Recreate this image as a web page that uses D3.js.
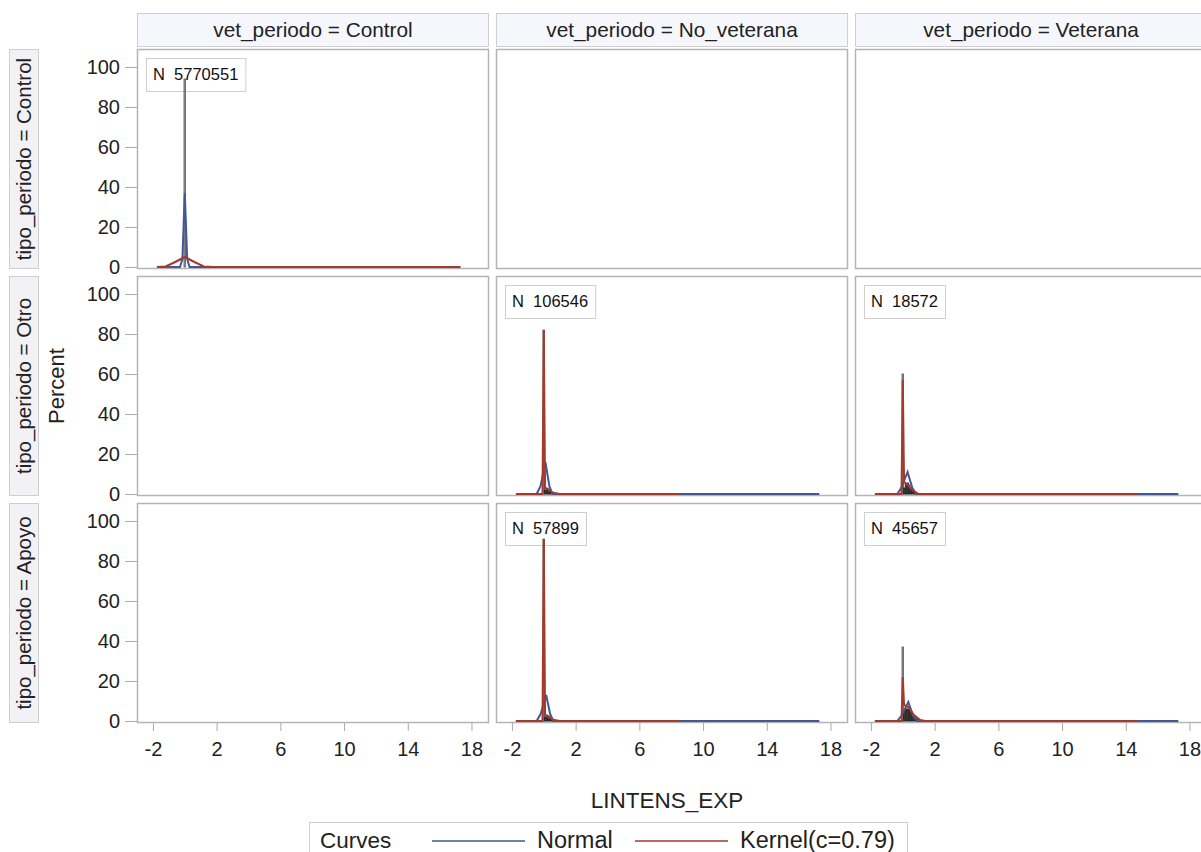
<!DOCTYPE html>
<html>
<head>
<meta charset="utf-8">
<script src="https://cdn.jsdelivr.net/npm/d3@7"></script>
<style>
  html, body { margin: 0; padding: 0; background: #ffffff; }
  svg { display: block; font-family: Arial, "Liberation Sans", sans-serif; }
</style>
</head>
<body>
<svg id="chart" width="1201" height="852"></svg>
<script>
// ---------------- data ----------------
const colLevels = ["Control", "No_veterana", "Veterana"];
const rowLevels = ["Control", "Otro", "Apoyo"];
const xTicks = [-2, 2, 6, 10, 14, 18];
const yTicks = [0, 20, 40, 60, 80, 100];
const xTitle = "LINTENS_EXP";
const yTitle = "Percent";
const legendItems = ["Normal", "Kernel(c=0.79)"];
const legendTitle = "Curves";

// N per panel [row][col], null = empty cell
const panelN = [
  [5770551, null, null],
  [null, 106546, 18572],
  [null, 57899, 45657]
];

// histogram bin midpoints (bin width 0.1) and percents per panel
const binWidth = 0.1;
const histMid_CC = [0];
const histPct_CC = [94];
const histMid_ONV = [0, 0.1, 0.2, 0.3, 0.4, 0.5, 0.6, 0.7];
const histPct_ONV = [82, 2, 3, 2.5, 1.5, 1, 0.5, 0.3];
const histMid_OV = [0, 0.1, 0.2, 0.3, 0.4, 0.5, 0.6, 0.7, 0.8];
const histPct_OV = [60, 3, 5, 5.5, 4.5, 3, 2, 1, 0.5];
const histMid_ANV = [0, 0.1, 0.2, 0.3, 0.4, 0.5, 0.6, 0.7];
const histPct_ANV = [91, 2, 3, 2.5, 1.5, 1, 0.5, 0.3];
const histMid_AV = [0, 0.1, 0.2, 0.3, 0.4, 0.5, 0.6, 0.7, 0.8, 0.9];
const histPct_AV = [37, 5, 6, 6, 5.5, 4.5, 3.5, 2.5, 1.5, 0.8];

// normal curve points (x, percent)
const normX_CC = [-1.75, -0.3, -0.15, 0, 0.15, 0.3, 17.3];
const normY_CC = [0, 0, 4, 37, 4, 0, 0];
const normX_ONV = [-1.75, -0.45, -0.2, 0.1, 0.35, 0.55, 17.3];
const normY_ONV = [0, 0, 4, 16, 4, 0, 0];
const normX_OV = [-1.75, -0.35, -0.1, 0.3, 0.6, 0.85, 17.3];
const normY_OV = [0, 0, 3, 11, 3, 0, 0];
const normX_ANV = [-1.75, -0.45, -0.2, 0.15, 0.4, 0.6, 17.3];
const normY_ANV = [0, 0, 3.5, 13, 3.5, 0, 0];
const normX_AV = [-1.75, -0.35, -0.1, 0.35, 0.65, 0.9, 17.3];
const normY_AV = [0, 0, 2.5, 9.5, 2.5, 0, 0];

// kernel curve points (x, percent)
const kerX_CC = [-1.75, -1.2, -0.6, 0, 0.6, 1.2, 1.8, 17.3];
const kerY_CC = [0, 0.3, 2.5, 5, 2.5, 0.3, 0, 0];
const kerX_ONV = [-1.75, -0.08, 0, 0.08, 0.3, 0.6, 1.0, 8.5];
const kerY_ONV = [0, 0, 82, 3, 2, 0.6, 0, 0];
const kerX_OV = [-1.75, -0.08, 0, 0.08, 0.3, 0.6, 1.0, 14.7];
const kerY_OV = [0, 0, 57, 6, 4.5, 2, 0, 0];
const kerX_ANV = [-1.75, -0.08, 0, 0.08, 0.3, 0.6, 1.0, 8.5];
const kerY_ANV = [0, 0, 91, 3, 2, 0.6, 0, 0];
const kerX_AV = [-1.75, -0.08, 0, 0.08, 0.35, 0.7, 1.1, 1.4, 14.7];
const kerY_AV = [0, 0, 22, 8, 7, 3, 0.5, 0, 0];

// ---------------- build panel table ----------------
function pts(xs, ys) { return xs.map((x, i) => ({x: x, y: ys[i]})); }
const panels = [
  {r: 0, c: 0, hm: histMid_CC, hp: histPct_CC, norm: pts(normX_CC, normY_CC), ker: pts(kerX_CC, kerY_CC)},
  {r: 1, c: 1, hm: histMid_ONV, hp: histPct_ONV, norm: pts(normX_ONV, normY_ONV), ker: pts(kerX_ONV, kerY_ONV)},
  {r: 1, c: 2, hm: histMid_OV, hp: histPct_OV, norm: pts(normX_OV, normY_OV), ker: pts(kerX_OV, kerY_OV)},
  {r: 2, c: 1, hm: histMid_ANV, hp: histPct_ANV, norm: pts(normX_ANV, normY_ANV), ker: pts(kerX_ANV, kerY_ANV)},
  {r: 2, c: 2, hm: histMid_AV, hp: histPct_AV, norm: pts(normX_AV, normY_AV), ker: pts(kerX_AV, kerY_AV)}
];

// ---------------- layout ----------------
const svg = d3.select("#chart");
const panelW = 352, panelH = 220;
const colX = [137, 496, 855];
const rowY = [49, 276, 503];
const blue = "#445694", red = "#A23A2E";
const frame = "#b4b4b4";
const FONT = "Arial, 'Liberation Sans', sans-serif";

const x = d3.scaleLinear().domain([-3.0, 19.1]).range([0, panelW]);
const y = d3.scaleLinear().domain([-1, 109]).range([panelH, 0]);

// column headers
colLevels.forEach((lev, c) => {
  const g = svg.append("g").attr("transform", `translate(${colX[c]},${rowY[0] - 36})`);
  g.append("rect").attr("x", 0.5).attr("y", 0.5).attr("width", panelW - 1).attr("height", 33)
    .attr("fill", "#f5f7fc").attr("stroke", "#cfcfcf");
  g.append("text").attr("x", panelW / 2).attr("y", 24).attr("text-anchor", "middle")
    .attr("font-size", 20.8).attr("fill", "#222").text("vet_periodo = " + lev);
});

// row headers
rowLevels.forEach((lev, r) => {
  const g = svg.append("g").attr("transform", `translate(9,${rowY[r]})`);
  g.append("rect").attr("x", 0.5).attr("y", 0.5).attr("width", 29).attr("height", panelH - 1)
    .attr("fill", "#f2f2f6").attr("stroke", "#cfcfcf");
  g.append("text").attr("transform", `translate(22,${panelH / 2}) rotate(-90)`)
    .attr("text-anchor", "middle").attr("font-size", 20.5).attr("fill", "#222")
    .text("tipo_periodo = " + lev);
});

// y title
svg.append("text").attr("transform", `translate(64,${rowY[1] + panelH / 2}) rotate(-90)`)
  .attr("text-anchor", "middle").attr("font-size", 22).attr("fill", "#222").text(yTitle);

// panel cells
rowLevels.forEach((rl, r) => {
  colLevels.forEach((cl, c) => {
    const g = svg.append("g").attr("transform", `translate(${colX[c]},${rowY[r]})`);
    g.append("rect").attr("class", "frame").attr("x", 0.5).attr("y", 0.5)
      .attr("width", panelW - 1).attr("height", panelH - 1)
      .attr("fill", "#fff").attr("stroke", frame).attr("stroke-width", 1.5);
  });
  // y axis on left column
  const ay = svg.append("g").attr("transform", `translate(${colX[0]},${rowY[r]})`)
    .call(d3.axisLeft(y).tickValues(yTicks).tickSize(12).tickPadding(5));
  ay.select(".domain").remove();
  ay.selectAll("line").attr("stroke", "#aaa");
  ay.selectAll("text").attr("font-size", 20).attr("fill", "#222").attr("font-family", FONT);
});

// x axes under bottom row
colLevels.forEach((cl, c) => {
  const ax = svg.append("g").attr("transform", `translate(${colX[c]},${rowY[2] + panelH})`)
    .call(d3.axisBottom(x).tickValues(xTicks).tickSize(8).tickPadding(11).tickFormat(d3.format("d")));
  ax.select(".domain").remove();
  ax.selectAll("line").attr("stroke", "#aaa");
  ax.selectAll("text").attr("font-size", 20).attr("fill", "#222").attr("font-family", FONT)
    .text(d => d < 0 ? "-" + Math.abs(d) : d);
});

// x title
svg.append("text").attr("x", colX[1] + panelW / 2 - 5).attr("y", 808).attr("text-anchor", "middle")
  .attr("font-size", 22.5).attr("fill", "#222").text(xTitle);

// panel content
const line = d3.line().x(d => x(d.x)).y(d => y(d.y));
panels.forEach(p => {
  const g = svg.append("g").attr("transform", `translate(${colX[p.c]},${rowY[p.r]})`);
  // N box
  const nb = g.append("g").attr("transform", "translate(9,9)");
  const t = nb.append("text").attr("x", 7).attr("y", 22).attr("font-size", 16.5).attr("fill", "#111")
    .attr("xml:space", "preserve").text("N  " + panelN[p.r][p.c]);
  const tw = t.node().getComputedTextLength();
  nb.insert("rect", "text").attr("x", 0.5).attr("y", 0.5).attr("width", tw + 14).attr("height", 33)
    .attr("fill", "#fff").attr("stroke", "#cfcfcf");
  // histogram
  g.selectAll("rect.bar").data(p.hm.map((m, i) => ({m: m, v: p.hp[i]}))).enter().append("rect")
    .attr("class", "bar")
    .attr("x", d => x(d.m - binWidth / 2)).attr("width", d => x(d.m + binWidth / 2) - x(d.m - binWidth / 2))
    .attr("y", d => y(d.v)).attr("height", d => y(0) - y(d.v))
    .attr("fill", d => d.m === 0 ? "#9a9a9a" : "#444").attr("stroke", d => d.m === 0 ? "#5a5a5a" : "#222")
    .attr("stroke-width", 0.8);
  // normal
  g.append("path").attr("d", line(p.norm)).attr("fill", "none").attr("stroke", blue).attr("stroke-width", 2);
  // kernel
  g.append("path").attr("d", line(p.ker)).attr("fill", "none").attr("stroke", red).attr("stroke-width", 2);
});

// legend
const lg = svg.append("g").attr("transform", "translate(309,822)");
lg.append("rect").attr("x", 0.5).attr("y", 0.5).attr("width", 598).attr("height", 40)
  .attr("fill", "#fff").attr("stroke", "#cfcfcf");
lg.append("text").attr("x", 11).attr("y", 26).attr("font-size", 22.5).attr("fill", "#222").text(legendTitle);
const legColors = [blue, red];
const legX = [123, 326];
legendItems.forEach((name, i) => {
  lg.append("line").attr("x1", legX[i]).attr("x2", legX[i] + 93).attr("y1", 19).attr("y2", 19)
    .attr("stroke", legColors[i]).attr("stroke-width", 1.5);
  lg.append("text").attr("x", legX[i] + 105).attr("y", 26).attr("font-size", 23.5).attr("fill", "#222").text(name);
});
</script>
</body>
</html>
